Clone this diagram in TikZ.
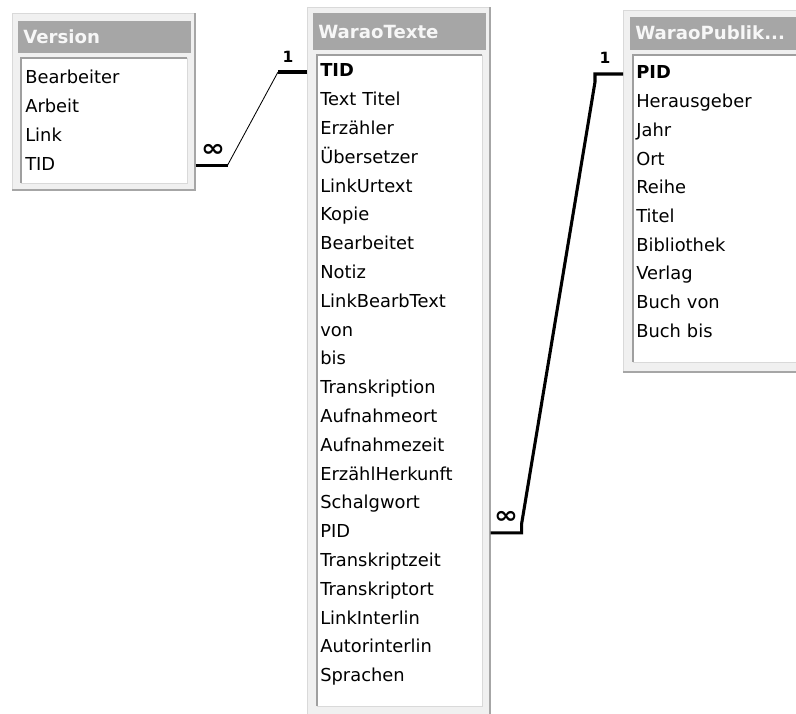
\documentclass[tikz,border=0pt]{standalone}
\usepackage{fontspec}
\setmainfont{DejaVu Sans}
\usetikzlibrary{calc}
\begin{document}
\begin{tikzpicture}[x=0.025cm, y=-0.025cm,
    tabbox/.style={fill=gray!12, draw=gray!30, line width=0.7pt},
    tabshade/.style={draw=gray!70, line width=1.8pt},
    titlebar/.style={fill=gray!70},
    sunken/.style={draw=gray!75, line width=1.4pt},
    raised/.style={draw=gray!30, line width=0.7pt},
    tabtitle/.style={anchor=west, inner sep=0pt, text=gray!6,
        font=\fontsize{12.9}{14}\selectfont\bfseries},
    field/.style={anchor=west, inner xsep=0.325cm, inner ysep=1pt,
        text width=3.925cm, text height=9.5pt, text depth=2.5pt,
        align=left, font=\fontsize{12.7}{14}\selectfont},
    keyfield/.style={field, font=\fontsize{12.7}{14}\selectfont\bfseries},
    rel/.style={line width=2.2pt},
    relthin/.style={line width=0.6pt},
    card/.style={inner sep=0pt, font=\fontsize{11}{12}\selectfont\bfseries},
    many/.style={inner sep=0pt, xscale=1.2, font=\fontsize{17}{17}\selectfont\bfseries}]
    \clip (0,0) rectangle (796,714);
    % the table Version
    \filldraw[tabbox] (12,13) rectangle (195,190);
    \draw[tabshade] (12,190) -- (195,190) -- (195,13);
    \fill[titlebar] (18,21) rectangle (191,53);
    \fill[white] (21,58) rectangle (187,183);
    \draw[sunken] (21,183) -- (21,58) -- (187,58);
    \draw[raised] (21,183) -- (187,183) -- (187,58);
    \node[tabtitle] (vtitle) at (23,37) {Version};
    \foreach \name [count=\i] in {Bearbeiter, Arbeit, Link, TID}
        \node[field] (v\i) at (12,{79+28.7*(\i-1)}) {\name};
    % the table WaraoTexte
    \filldraw[tabbox] (307,7) rectangle (490,716);
    \draw[tabshade] (307,716) -- (490,716) -- (490,7);
    \fill[titlebar] (313,13) rectangle (486,50);
    \fill[white] (317,55) rectangle (482,706);
    \draw[sunken] (317,706) -- (317,55) -- (482,55);
    \draw[raised] (317,706) -- (482,706) -- (482,55);
    \node[tabtitle] (ttitle) at (318,32) {WaraoTexte};
    \node[keyfield] (tTID) at (307,72) {TID};
    \foreach \name [count=\i] in {Text Titel, Erzähler, Übersetzer, LinkUrtext,
        Kopie, Bearbeitet, Notiz, LinkBearbText, von, bis, Transkription,
        Aufnahmeort, Aufnahmezeit, ErzählHerkunft, Schalgwort, PID,
        Transkriptzeit, Transkriptort, LinkInterlin, Autorinterlin, Sprachen}
        \node[field] (t\i) at (307,{72+28.8*\i}) {\name};
    % the table WaraoPublik...
    \filldraw[tabbox] (623,10) rectangle (806,372);
    \draw[tabshade] (623,372) -- (806,372) -- (806,10);
    \fill[titlebar] (630,17) rectangle (802,50);
    \fill[white] (633,55) rectangle (798,362);
    \draw[sunken] (633,362) -- (633,55) -- (798,55);
    \draw[raised] (633,362) -- (798,362) -- (798,55);
    \node[tabtitle] (ptitle) at (635,33) {WaraoPublik...};
    \node[keyfield] (pPID) at (623,74) {PID};
    \foreach \name [count=\i] in {Herausgeber, Jahr, Ort, Reihe, Titel,
        Bibliothek, Verlag, Buch von, Buch bis}
        \node[field] (p\i) at (623,{74+28.7*\i}) {\name};
    % relation TID
    \draw[rel] (v4.east) -- ++(32,0) coordinate (c1);
    \draw[rel] (tTID.west) -- ++(-29,0) coordinate (c2);
    \draw[relthin] (c1) -- (c2);
    \node[many] (m1) at (213,150) {∞};
    \node[card] (o1) at (288,57) {1};
    % relation PID
    \draw[rel, line join=miter] (t16.east) -- ++(31,0) -- ++(0,-9)
        -- ($(pPID.west)+(-28,8)$) -- ++(0,-8) -- (pPID.west);
    \node[many] (m2) at (506,517) {∞};
    \node[card] (o2) at (605,58) {1};
\end{tikzpicture}
\end{document}
